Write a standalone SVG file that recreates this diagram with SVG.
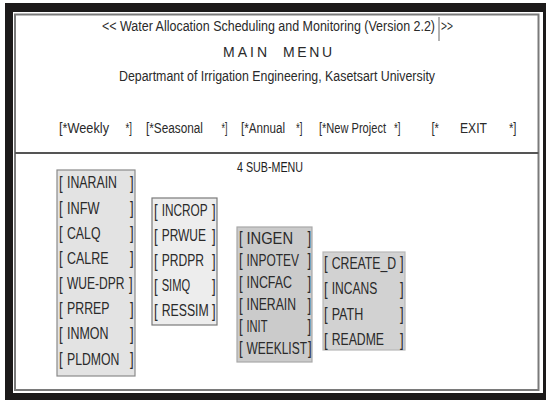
<svg xmlns="http://www.w3.org/2000/svg" width="546" height="400" viewBox="0 0 546 400">
<style>
  text { font-family: "Liberation Sans", Arial, sans-serif; fill: #2a2a2a; }
  .hdr { font-size: 14.5px; }
  .mm { font-size: 14px; }
  .menu { font-size: 15.5px; }
  .sub { font-size: 14.5px; fill: #1e1e1e; }
  .it { font-size: 17px; }
  .br text { font-size: 18px; }
  .b1 { fill: #e3e3e3; stroke: #8a8a8a; stroke-width: 1.2; }
  .b2 { fill: #ededed; stroke: #7a7a7a; stroke-width: 1.2; }
  .b3 { fill: #cbcbcb; stroke: #a8a8a8; stroke-width: 1.2; }
  .b4 { fill: #d2d2d2; stroke: #b8b8b8; stroke-width: 1.2; }
</style>
<rect x="0" y="0" width="546" height="400" fill="#ffffff"/>
<rect x="5" y="3" width="546" height="400" fill="#1c1a1a"/>
<rect x="13" y="12" width="530" height="381" fill="#ffffff"/>
<rect x="15" y="14.5" width="523.5" height="375.5" fill="none" stroke="#7a7a7a" stroke-width="2"/>
<line x1="15" y1="153" x2="538.5" y2="153" stroke="#555" stroke-width="2"/>

<g id="header">
  <line x1="439" y1="17" x2="439" y2="41" stroke="#666" stroke-width="1"/>
  <g transform="scale(0.855,1)">
    <text class="hdr" x="119.3" y="31" textLength="389.5" lengthAdjust="spacingAndGlyphs">&lt;&lt; Water Allocation Scheduling and Monitoring (Version 2.2)</text>
    <text class="hdr" x="515.8" y="31" textLength="14" lengthAdjust="spacingAndGlyphs">&gt;&gt;</text>
    <text class="hdr" x="139.2" y="81.5" textLength="369.6" lengthAdjust="spacingAndGlyphs">Departmant of Irrigation Engineering, Kasetsart University</text>
  </g>
  <text class="mm" x="223" y="56.5" textLength="44" lengthAdjust="spacing">MAIN</text>
  <text class="mm" x="283" y="56.5" textLength="49" lengthAdjust="spacing">MENU</text>
</g>

<g id="main-menu" transform="scale(0.75,1)">
  <text class="menu" x="78.67" y="133" textLength="66.67" lengthAdjust="spacingAndGlyphs">[*Weekly</text>
  <text class="menu" x="167.33" y="133" textLength="8.67" lengthAdjust="spacingAndGlyphs">*]</text>
  <text class="menu" x="194.67" y="133" textLength="76" lengthAdjust="spacingAndGlyphs">[*Seasonal</text>
  <text class="menu" x="295.33" y="133" textLength="8" lengthAdjust="spacingAndGlyphs">*]</text>
  <text class="menu" x="321.33" y="133" textLength="58.67" lengthAdjust="spacingAndGlyphs">[*Annual</text>
  <text class="menu" x="394.67" y="133" textLength="8.67" lengthAdjust="spacingAndGlyphs">*]</text>
  <text class="menu" x="425.33" y="133" textLength="89.33" lengthAdjust="spacingAndGlyphs">[*New Project</text>
  <text class="menu" x="525.33" y="133" textLength="8.67" lengthAdjust="spacingAndGlyphs">*]</text>
  <text class="menu" x="575.33" y="133" textLength="10" lengthAdjust="spacingAndGlyphs">[*</text>
  <text class="menu" x="613.33" y="133" textLength="36" lengthAdjust="spacingAndGlyphs">EXIT</text>
  <text class="menu" x="678.67" y="133" textLength="10" lengthAdjust="spacingAndGlyphs">*]</text>
</g>

<g id="submenu-title" transform="scale(0.74,1)">
  <text class="sub" x="320.3" y="172" textLength="89.2" lengthAdjust="spacingAndGlyphs">4 SUB-MENU</text>
</g>

<g id="submenu-1">
  <rect class="b1" x="57" y="170" width="78" height="206"/>
  <g transform="scale(0.725,1)">
    <g class="br">
      <text x="81.38" y="189.5">[</text><text x="179.31" y="189.5">]</text>
      <text x="81.38" y="214.5">[</text><text x="179.31" y="214.5">]</text>
      <text x="81.38" y="239.5">[</text><text x="179.31" y="239.5">]</text>
      <text x="81.38" y="264.5">[</text><text x="179.31" y="264.5">]</text>
      <text x="81.38" y="290">[</text><text x="177.93" y="290">]</text>
      <text x="81.38" y="315">[</text><text x="179.31" y="315">]</text>
      <text x="81.38" y="340.5">[</text><text x="179.31" y="340.5">]</text>
      <text x="81.38" y="365.5">[</text><text x="179.31" y="365.5">]</text>
    </g>
    <text class="it" x="92.41" y="188.5" textLength="68.97" lengthAdjust="spacingAndGlyphs">INARAIN</text>
    <text class="it" x="92.41" y="213.7" textLength="44.83" lengthAdjust="spacingAndGlyphs">INFW</text>
    <text class="it" x="92.41" y="238.8" textLength="46.21" lengthAdjust="spacingAndGlyphs">CALQ</text>
    <text class="it" x="92.41" y="264" textLength="57.24" lengthAdjust="spacingAndGlyphs">CALRE</text>
    <text class="it" x="92.41" y="289" textLength="79.31" lengthAdjust="spacingAndGlyphs">WUE-DPR</text>
    <text class="it" x="92.41" y="314.3" textLength="58.62" lengthAdjust="spacingAndGlyphs">PRREP</text>
    <text class="it" x="92.41" y="339.5" textLength="57.24" lengthAdjust="spacingAndGlyphs">INMON</text>
    <text class="it" x="92.41" y="364.7" textLength="72.41" lengthAdjust="spacingAndGlyphs">PLDMON</text>
  </g>
</g>

<g id="submenu-2">
  <rect class="b2" x="152" y="198" width="65" height="127"/>
  <g transform="scale(0.725,1)">
    <g class="br">
      <text x="212.41" y="217">[</text><text x="292.41" y="217">]</text>
      <text x="212.41" y="242">[</text><text x="292.41" y="242">]</text>
      <text x="212.41" y="267">[</text><text x="292.41" y="267">]</text>
      <text x="212.41" y="292">[</text><text x="292.41" y="292">]</text>
      <text x="212.41" y="317">[</text><text x="292.41" y="317">]</text>
    </g>
    <text class="it" x="223.03" y="216.3" textLength="63.45" lengthAdjust="spacingAndGlyphs">INCROP</text>
    <text class="it" x="223.03" y="241.3" textLength="61.1" lengthAdjust="spacingAndGlyphs">PRWUE</text>
    <text class="it" x="223.03" y="266.5" textLength="58.34" lengthAdjust="spacingAndGlyphs">PRDPR</text>
    <text class="it" x="223.03" y="291.5" textLength="39.31" lengthAdjust="spacingAndGlyphs">SIMQ</text>
    <text class="it" x="223.03" y="316.5" textLength="64.83" lengthAdjust="spacingAndGlyphs">RESSIM</text>
  </g>
</g>

<g id="submenu-3">
  <rect class="b3" x="237" y="227" width="75" height="135"/>
  <g transform="scale(0.725,1)">
    <g class="br">
      <text x="329.66" y="244.5">[</text><text x="424.14" y="244.5">]</text>
      <text x="329.66" y="266.5">[</text><text x="424.14" y="266.5">]</text>
      <text x="329.66" y="289">[</text><text x="424.14" y="289">]</text>
      <text x="329.66" y="311">[</text><text x="424.14" y="311">]</text>
      <text x="329.66" y="332.5">[</text><text x="424.14" y="332.5">]</text>
      <text x="329.66" y="354.5">[</text><text x="424.83" y="354.5">]</text>
    </g>
    <text class="it" x="340" y="244" textLength="64.14" lengthAdjust="spacingAndGlyphs">INGEN</text>
    <text class="it" x="340" y="266" textLength="72.41" lengthAdjust="spacingAndGlyphs">INPOTEV</text>
    <text class="it" x="340" y="288.3" textLength="62.76" lengthAdjust="spacingAndGlyphs">INCFAC</text>
    <text class="it" x="340" y="310.3" textLength="68.28" lengthAdjust="spacingAndGlyphs">INERAIN</text>
    <text class="it" x="340" y="331.8" textLength="28.97" lengthAdjust="spacingAndGlyphs">INIT</text>
    <text class="it" x="340" y="354" textLength="83.45" lengthAdjust="spacingAndGlyphs">WEEKLIST</text>
  </g>
</g>

<g id="submenu-4">
  <rect class="b4" x="323" y="252" width="82" height="98"/>
  <g transform="scale(0.725,1)">
    <g class="br">
      <text x="446.9" y="269.5">[</text><text x="551.72" y="269.5">]</text>
      <text x="446.9" y="295">[</text><text x="551.72" y="295">]</text>
      <text x="446.9" y="320.5">[</text><text x="551.72" y="320.5">]</text>
      <text x="446.9" y="346">[</text><text x="551.72" y="346">]</text>
    </g>
    <text class="it" x="457.52" y="269" textLength="88.97" lengthAdjust="spacingAndGlyphs">CREATE_D</text>
    <text class="it" x="457.52" y="294.3" textLength="62.76" lengthAdjust="spacingAndGlyphs">INCANS</text>
    <text class="it" x="457.52" y="319.7" textLength="43.45" lengthAdjust="spacingAndGlyphs">PATH</text>
    <text class="it" x="457.52" y="345.3" textLength="72.14" lengthAdjust="spacingAndGlyphs">README</text>
  </g>
</g>

<g id="connectors"/>
</svg>
